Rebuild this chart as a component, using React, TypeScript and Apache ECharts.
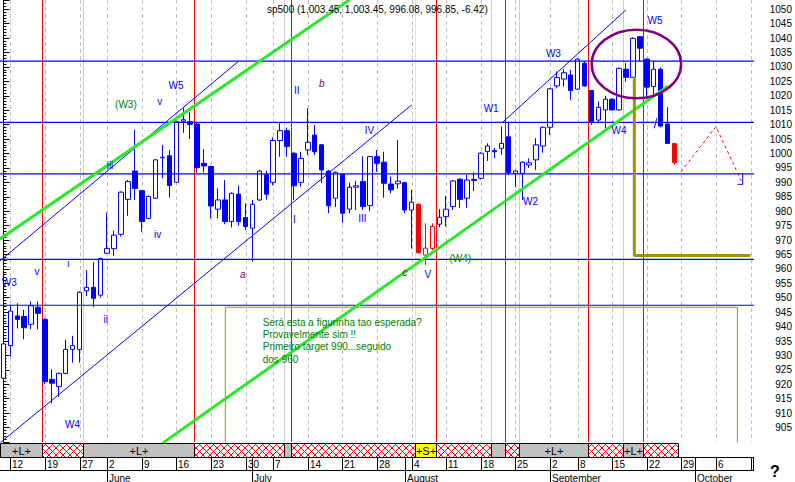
import React, { useEffect, useRef } from "react";
import * as echarts from "echarts";

// ---- categories: trading days (2003) ----
const MAY = [9, 12, 13, 14, 15, 16, 19, 20, 21, 22, 23, 27, 28, 29, 30];
const JUN = [2, 3, 4, 5, 6, 9, 10, 11, 12, 13, 16, 17, 18, 19, 20, 23, 24, 25, 26, 27, 30];
const JUL = [1, 2, 3, 7, 8, 9, 10, 11, 14, 15, 16, 17, 18, 21, 22, 23, 24, 25, 28, 29, 30, 31];
const AUG = [1, 4, 5, 6, 7, 8, 11, 12, 13, 14, 15, 18, 19, 20, 21, 22, 25, 26, 27, 28, 29];
const SEP = [2, 3, 4, 5, 8, 9, 10, 11, 12, 15, 16, 17, 18, 19, 22, 23, 24, 25, 26, 29, 30];
const OCT = [1, 2, 3, 6, 7, 8, 9, 10, 13];
const MONTH_NAMES: Record<string, string> = { "05": "May", "06": "June", "07": "July", "08": "August", "09": "September", "10": "October" };

const pad = (n: number) => (n < 10 ? "0" + n : String(n));
const DATES: string[] = [
  ...MAY.map((d) => `2003-05-${pad(d)}`),
  ...JUN.map((d) => `2003-06-${pad(d)}`),
  ...JUL.map((d) => `2003-07-${pad(d)}`),
  ...AUG.map((d) => `2003-08-${pad(d)}`),
  ...SEP.map((d) => `2003-09-${pad(d)}`),
  ...OCT.map((d) => `2003-10-${pad(d)}`),
];

// ---- OHLC ----
const OPEN = [
  922.1, 933.4, 943.7, 943.5, 940.8, 946.7, 942.5, 921.7, 919.2, 923.8,
  932.1, 932.1, 952.4, 953.6, 950.9, 965.4, 967.0, 972.0, 984.1, 993.9,
  987.1, 977.5, 984.5, 998.5, 999.2, 990.0, 1011.2, 1011.0, 1010.2, 996.6,
  995.5, 980.7, 983.9, 976.4, 985.9, 977.8, 974.1, 983.9, 992.6, 990.0,
  1004.5, 1007.9, 1000.1, 990.0, 1001.2, 1006.4, 1003.0, 993.9, 984.5, 992.8,
  980.7, 988.3, 990.3, 981.9, 998.9, 997.0, 989.4, 989.5, 989.9, 980.4,
  982.4, 964.8, 967.1, 975.5, 978.1, 981.6, 991.1, 984.5, 990.6, 991.4,
  1000.7, 1001.0, 1001.8, 1005.8, 993.1, 993.1, 996.0, 997.8, 1002.6, 1009.1,
  1023.4, 1025.8, 1027.2, 1022.3, 1031.3, 1021.8, 1011.6, 1015.1, 1018.8, 1015.1,
  1029.2, 1026.4, 1040.5, 1032.7, 1023.2, 1029.2, 1010.2, 1003.45,
];
const CLOSE = [
  934.0, 945.4, 942.5, 939.6, 947.2, 944.6, 920.9, 920.4, 923.8, 932.1,
  933.4, 951.9, 953.6, 949.8, 963.6, 967.1, 971.7, 986.6, 990.3, 987.9,
  976.4, 985.1, 997.8, 998.7, 988.9, 1011.0, 1011.7, 1010.1, 995.1, 995.7,
  981.8, 983.9, 976.4, 986.2, 976.4, 974.7, 982.4, 993.9, 985.9, 1004.5,
  1007.9, 1002.4, 988.8, 998.3, 1003.9, 1000.6, 994.3, 981.9, 993.5, 979.3,
  988.3, 988.8, 981.6, 998.9, 996.6, 989.7, 987.4, 990.4, 980.4, 983.1,
  965.6, 967.2, 974.7, 977.9, 980.7, 990.5, 984.1, 990.8, 991.0, 1000.1,
  1002.6, 1000.6, 1003.5, 993.4, 993.9, 997.0, 996.8, 1003.0, 1009.1, 1022.4,
  1026.3, 1028.0, 1021.8, 1032.7, 1023.4, 1011.1, 1016.0, 1018.8, 1015.1, 1029.5,
  1026.4, 1039.9, 1036.5, 1023.0, 1029.2, 1009.5, 1003.5, 996.85,
];
const LOW = [
  921.5, 929.6, 939.4, 935.6, 939.1, 939.1, 920.0, 913.4, 915.7, 923.5,
  927.5, 927.5, 950.6, 946.7, 950.0, 965.2, 964.5, 971.2, 978.4, 983.9,
  972.9, 977.2, 984.2, 991.4, 984.7, 989.8, 1007.2, 1005.0, 993.4, 993.4,
  977.5, 977.5, 975.5, 974.4, 975.0, 973.5, 962.5, 983.5, 984.0, 989.0,
  998.9, 998.9, 983.9, 988.5, 999.5, 999.5, 989.7, 979.3, 981.4, 976.0,
  979.3, 980.4, 980.5, 980.0, 993.7, 984.7, 986.2, 987.8, 979.3, 967.1,
  965.3, 961.4, 966.5, 974.4, 974.7, 980.4, 981.2, 981.2, 987.0, 991.0,
  997.4, 998.4, 999.5, 992.6, 988.3, 983.9, 995.0, 994.3, 1000.3, 1006.4,
  1022.6, 1023.2, 1018.6, 1022.0, 1023.2, 1009.9, 1010.5, 1008.7, 1014.8, 1014.9,
  1024.9, 1026.2, 1031.9, 1019.0, 1020.3, 1009.0, 1003.3, 996.08,
];
const HIGH = [
  934.5, 947.5, 948.1, 945.8, 948.7, 948.7, 943.0, 925.2, 924.0, 935.4,
  936.8, 952.2, 959.6, 962.3, 963.9, 979.5, 973.2, 986.9, 990.8, 1008.2,
  987.4, 985.4, 998.0, 1003.0, 1001.2, 1011.2, 1015.7, 1014.2, 1011.0, 1001.5,
  995.8, 987.9, 990.8, 986.5, 988.9, 982.7, 983.9, 994.3, 994.0, 1005.6,
  1010.5, 1009.0, 1000.4, 1000.6, 1015.7, 1009.9, 1003.3, 994.2, 993.8, 993.1,
  989.9, 990.5, 999.0, 999.1, 1001.2, 1000.6, 992.0, 1004.7, 990.2, 987.4,
  982.8, 975.8, 975.8, 980.7, 985.3, 990.8, 991.4, 992.6, 993.4, 1000.4,
  1003.5, 1002.0, 1009.3, 1011.0, 994.2, 997.3, 998.3, 1005.3, 1009.4, 1022.7,
  1028.4, 1029.3, 1029.0, 1033.0, 1031.8, 1022.0, 1018.0, 1020.0, 1019.1, 1029.8,
  1031.3, 1040.3, 1040.7, 1033.0, 1032.2, 1029.8, 1016.0, 1003.45,
];
const RED_IDX = [60, 61, 62, 97];

const TITLE = "sp500 (1,003.45, 1,003.45, 996.08, 996.85, -6.42)";

// ---- overlay drawings: [category index, price] ----
const GREEN_UP = [[-0.5, 970.4], [50.0, 1053.2]];
const GREEN_LOW = [[23.0, 899.6], [96.1, 1023.4]];
const BLUE_CH1 = [[-0.5, 962.8], [33.9, 1031.8]];
const BLUE_CH2 = [[-0.5, 899.7], [59.0, 1016.8]];
const BLUE_CH3 = [[72.2, 1010.9], [90.0, 1049.8]];
const H_LEVELS = [1032.0, 1010.8, 992.9, 963.3, 947.4];
const RED_PROJ = [[97.95, 993.7], [103.0, 1009.3], [106.9, 989.3]];
const OLIVE_L = [[91.2, 1026.6], [91.2, 964.6], [108.0, 964.6]];
const NOTE_BOX = [[32.07, 899], [32.07, 946.7], [106.1, 946.7], [106.1, 899]];
const BLUE_SLASH = [[94.09, 1008.75], [94.44, 1012.2]];
const BLUE_HOOK = [[106.87, 992.9], [106.87, 989.3], [106.12, 989.3]];
const ELLIPSE = { i: 91.5, v: 1031.0, rx: 44.7, ry: 34.2 };

const RED_VLINES = [5.5, 27.5, 41.5, 62.5, 72.5, 84.5, 92.5];
const YELLOW_VLINES = [59.5];
const GRAY_VLINES = [11.5, 40.5, 70.5, 74.5, 89.5];

// band segments: [from, to, kind]  L = gray "+L+", G = gray, X = red hatch, S = yellow "+S+"
const BAND: [number, number, string][] = [
  [-0.5, 5.5, "L"], [5.5, 11.5, "X"], [11.5, 27.5, "L"], [27.5, 40.5, "X"],
  [40.5, 41.5, "G"], [41.5, 59.5, "X"], [59.5, 62.5, "S"], [62.5, 70.5, "X"],
  [70.5, 72.5, "G"], [72.5, 74.5, "X"], [74.5, 84.5, "L"], [84.5, 89.5, "X"],
  [89.5, 92.5, "L"], [92.5, 97.5, "X"],
];

const ANNOTS: { t: string; i: number; v: number; c: string; it?: boolean }[] = [
  { t: "W5", i: 24.94, v: 1023.4, c: "#0000ff" },
  { t: "v", i: 22.6, v: 1017.9, c: "#0000ff" },
  { t: "(W3)", i: 17.7, v: 1016.9, c: "#008000" },
  { t: "iii", i: 15.4, v: 995.9, c: "#0000ff" },
  { t: "iv", i: 22.3, v: 971.8, c: "#0000ff" },
  { t: "W3", i: 0.83, v: 955.3, c: "#0000ff" },
  { t: "v", i: 4.85, v: 959.0, c: "#0000ff" },
  { t: "i", i: 9.4, v: 962.0, c: "#0000ff" },
  { t: "ii", i: 14.8, v: 942.3, c: "#0000ff" },
  { t: "W4", i: 9.98, v: 906.1, c: "#0000ff" },
  { t: "a", i: 34.6, v: 958.1, c: "#800080", it: true },
  { t: "b", i: 46.0, v: 1024.2, c: "#800080", it: true },
  { t: "II", i: 42.4, v: 1021.9, c: "#0000ff" },
  { t: "I", i: 42.05, v: 977.0, c: "#0000ff" },
  { t: "IV", i: 52.9, v: 1008.1, c: "#0000ff" },
  { t: "III", i: 51.9, v: 977.6, c: "#0000ff" },
  { t: "c", i: 58.05, v: 958.6, c: "#800080", it: true },
  { t: "V", i: 61.35, v: 958.1, c: "#0000ff" },
  { t: "(W4)", i: 66.05, v: 963.7, c: "#008000" },
  { t: "W1", i: 70.5, v: 1015.5, c: "#0000ff" },
  { t: "W2", i: 76.2, v: 983.3, c: "#0000ff" },
  { t: "W3", i: 79.5, v: 1034.7, c: "#0000ff" },
  { t: "W4", i: 89.0, v: 1008.1, c: "#0000ff" },
  { t: "W5", i: 94.2, v: 1046.0, c: "#0000ff" },
];

const NOTE_LINES = [
  "Será esta a figurinha tao esperada?",
  "Provavelmente sim !!",
  "Primeiro target 990...seguido",
  "dos 960",
];
const NOTE_ANCHOR = { i: 37.48, v: 941.5 };

const FONT = "Liberation Sans";

const dow = DATES.map((d) => new Date(d + "T00:00:00Z").getUTCDay());
const WEEK_IDX = DATES.map((_, i) => i).filter((i) => i > 0 && dow[i] < dow[i - 1]);
const MONTH_IDX = DATES.map((_, i) => i).filter((i) => i > 0 && DATES[i].slice(5, 7) !== DATES[i - 1].slice(5, 7));

function lineSeries(data: number[][], color: string, width: number, type: any = "solid", z = 6) {
  return {
    type: "line",
    xAxisIndex: 1,
    yAxisIndex: 0,
    data,
    symbol: "none",
    showSymbol: false,
    silent: true,
    clip: true,
    z,
    lineStyle: { color, width, type },
  };
}

function buildOption() {
  const candleData = OPEN.map((o, i) => {
    const item: any = { value: [o, CLOSE[i], LOW[i], HIGH[i]] };
    if (RED_IDX.includes(i)) {
      const up = CLOSE[i] > o;
      const fillC = up ? "#ffffff" : "#ff0000";
      item.itemStyle = { color: fillC, color0: fillC, borderColor: "#ff0000", borderColor0: "#ff0000" };
    }
    return item;
  });

  const series: any[] = [
    {
      type: "candlestick",
      xAxisIndex: 0,
      yAxisIndex: 0,
      barWidth: 5,
      z: 3,
      data: candleData,
      itemStyle: { color: "#ffffff", color0: "#0000ff", borderColor: "#0000ff", borderColor0: "#0000ff", borderWidth: 1 },
    },
    ...H_LEVELS.map((v) => lineSeries([[-0.5, v], [108.5, v]], "#0000ff", 1.2, "solid", 5)),
    lineSeries(NOTE_BOX, "#999900", 1, "solid", 4),
    lineSeries(BLUE_CH1, "#0000ff", 1),
    lineSeries(BLUE_CH2, "#0000ff", 1),
    lineSeries(BLUE_CH3, "#0000ff", 1),
    lineSeries(GREEN_UP, "#2ee62e", 3, "solid", 7),
    lineSeries(GREEN_LOW, "#2ee62e", 3, "solid", 7),
    lineSeries(RED_PROJ, "#ff0000", 1, [3, 3], 7),
    lineSeries(OLIVE_L, "#9c9400", 3, "solid", 7),
    lineSeries(BLUE_SLASH, "#0000ff", 1, "solid", 7),
    lineSeries(BLUE_HOOK, "#0000ff", 1, "solid", 7),
  ];

  return {
    animation: false,
    backgroundColor: "#ffffff",
    grid: { left: 0, right: 41, top: 0, bottom: 40, containLabel: false },
    xAxis: [
      { type: "category", data: DATES, boundaryGap: true, show: false },
      { type: "value", min: -0.5, max: 108.5, show: false },
    ],
    yAxis: [
      {
        type: "value",
        position: "right",
        min: 900,
        max: 1053.2,
        interval: 5,
        axisLine: { show: true, lineStyle: { color: "#000000", width: 1 } },
        axisTick: { show: true, length: 6, lineStyle: { color: "#000000" } },
        minorTick: { show: true, splitNumber: 5, length: 3, lineStyle: { color: "#000000" } },
        splitLine: { show: false },
        axisLabel: {
          show: true,
          fontSize: 10,
          fontFamily: FONT,
          color: "#000000",
          align: "right",
          margin: 38,
          formatter: (v: number) => (Math.abs(v % 5) < 1e-6 && v > 900.5 ? String(Math.round(v)) : ""),
        },
      },
    ],
    series,
  };
}

function txt(x: number, y: number, text: string, opts: any = {}) {
  const align = opts.align || "left";
  const valign = opts.valign || "middle";
  return {
    type: "text",
    x,
    y,
    z: opts.z || 20,
    silent: true,
    style: {
      text,
      fill: opts.color || "#000000",
      fontSize: opts.size || 10,
      fontFamily: FONT,
      fontWeight: opts.weight || "normal",
      fontStyle: opts.italic ? "italic" : "normal",
      align,
      textAlign: align,
      verticalAlign: valign,
      textVerticalAlign: valign,
    },
  };
}

function buildGraphic(chart: any) {
  const px = (i: number) => chart.convertToPixel({ xAxisIndex: 1 }, i) as number;
  const py = (v: number) => chart.convertToPixel({ yAxisIndex: 0 }, v) as number;
  const els: any[] = [];
  const plotBottom = py(900);

  // vertical guide lines (under the candles)
  const vline = (i: number, color: string, dash?: number[]) => {
    const x = Math.round(px(i)) + 0.5;
    els.push({
      type: "line",
      shape: { x1: x, y1: 0, x2: x, y2: plotBottom },
      style: { stroke: color, lineWidth: 1, lineDash: dash || null },
      z: 1,
      silent: true,
    });
  };
  WEEK_IDX.forEach((i) => vline(i, "#c0c0c0", [4, 3]));
  GRAY_VLINES.forEach((i) => vline(i, "#cccccc"));
  YELLOW_VLINES.forEach((i) => vline(i, "#ffff00"));
  RED_VLINES.forEach((i) => vline(i, "#ff0000"));

  // hatch pattern
  const cv = document.createElement("canvas");
  cv.width = 7;
  cv.height = 7;
  const ctx = cv.getContext("2d")!;
  ctx.fillStyle = "#ffffff";
  ctx.fillRect(0, 0, 7, 7);
  ctx.strokeStyle = "#ff0000";
  ctx.lineWidth = 1;
  ctx.beginPath();
  ctx.moveTo(0, 0);
  ctx.lineTo(7, 7);
  ctx.moveTo(7, 0);
  ctx.lineTo(0, 7);
  ctx.stroke();
  const hatch = { image: cv, repeat: "repeat", imageWidth: 7, imageHeight: 7 };

  const bandTop = 443.5;
  const bandH = 14;
  const rowBottom = 470.5;
  const right = px(108.5);

  BAND.forEach(([a, b, kind]) => {
    const x0 = Math.round(px(a)) + 0.5;
    const x1 = Math.round(px(b)) + 0.5;
    const fill = kind === "X" ? hatch : kind === "S" ? "#ffff00" : "#c0c0c0";
    els.push({
      type: "rect",
      shape: { x: x0, y: bandTop, width: x1 - x0, height: bandH },
      style: { fill, stroke: "#000000", lineWidth: 1 },
      z: 10,
      silent: true,
    });
    if (kind === "L" || kind === "S") {
      els.push(txt((x0 + x1) / 2, bandTop + bandH / 2 + 0.5, kind === "L" ? "+L+" : "+S+", { align: "center", size: 11 }));
    }
  });

  // date row
  const hl = (y: number, x2: number) =>
    els.push({ type: "line", shape: { x1: 0, y1: y, x2, y2: y }, style: { stroke: "#000", lineWidth: 1 }, z: 11, silent: true });
  hl(bandTop + bandH, right);
  hl(rowBottom, right);
  els.push({ type: "line", shape: { x1: Math.round(right) - 0.5, y1: bandTop + bandH, x2: Math.round(right) - 0.5, y2: rowBottom }, style: { stroke: "#000", lineWidth: 1 }, z: 11, silent: true });
  WEEK_IDX.forEach((i) => {
    const x = Math.round(px(i)) + 0.5;
    els.push({ type: "line", shape: { x1: x, y1: bandTop + bandH, x2: x, y2: rowBottom }, style: { stroke: "#000", lineWidth: 1 }, z: 11, silent: true });
    if (x + 12 < right) els.push(txt(x + 1.5, 464.5, String(parseInt(DATES[i].slice(8), 10))));
  });
  MONTH_IDX.forEach((i) => {
    const x = Math.round(px(i)) + 0.5;
    els.push({ type: "line", shape: { x1: x, y1: bandTop + bandH, x2: x, y2: 482 }, style: { stroke: "#000", lineWidth: 1 }, z: 11, silent: true });
    els.push(txt(x + 1.5, 478, MONTH_NAMES[DATES[i].slice(5, 7)]));
  });

  // ellipse
  els.push({
    type: "ellipse",
    shape: { cx: px(ELLIPSE.i), cy: py(ELLIPSE.v), rx: ELLIPSE.rx, ry: ELLIPSE.ry },
    style: { fill: "none", stroke: "#800080", lineWidth: 2.5 },
    z: 15,
    silent: true,
  });

  // annotations
  ANNOTS.forEach((a) => {
    els.push(txt(px(a.i), py(a.v), a.t, { align: "center", color: a.c, italic: !!a.it }));
  });

  // note text
  const nx = px(NOTE_ANCHOR.i);
  const ny = py(NOTE_ANCHOR.v);
  NOTE_LINES.forEach((l, k) => els.push(txt(nx, ny + k * 12.3, l, { color: "#008000" })));

  // title and mark
  els.push(txt(267, 9.5, TITLE));
  els.push(txt(775, 471, "?", { align: "center", size: 16, weight: "bold" }));

  return { elements: els };
}

export default function App() {
  const ref = useRef<HTMLDivElement>(null);
  useEffect(() => {
    const el = ref.current;
    if (!el) return;
    const chart = echarts.init(el, null, { renderer: "svg" });
    chart.setOption(buildOption() as any);
    chart.setOption({ graphic: buildGraphic(chart) } as any);
    return () => chart.dispose();
  }, []);
  return (
    <div
      ref={ref}
      style={{ position: "absolute", left: 0, top: 0, width: 795, height: 482, background: "#ffffff" }}
    />
  );
}
